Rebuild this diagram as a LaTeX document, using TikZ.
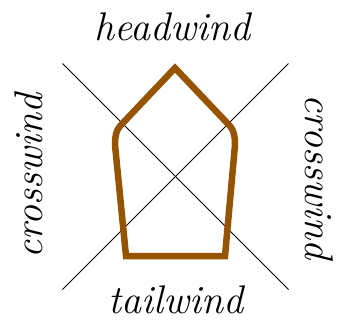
\documentclass[tikz,border=0pt]{standalone}
\definecolor{boatbrown}{RGB}{150,84,0}
\begin{document}
\begin{tikzpicture}[x=1pt,y=-1pt,
  windlabel/.style={font=\fontsize{40}{40}\selectfont\itshape, inner sep=0pt, anchor=base},
  crossline/.style={line width=0.9pt, black},
  hull/.style={line width=6.5pt, draw=boatbrown, line join=miter}]
\useasboundingbox (0,0) rectangle (343,322);
\coordinate (tl) at (62.5,63.5);
\coordinate (br) at (288.5,289.5);
\coordinate (tr) at (288.5,63.5);
\coordinate (bl) at (62.5,289.5);
\draw[crossline] (tl) -- (br);
\draw[crossline] (tr) -- (bl);
\draw[hull] (175,68) -- (230,126) .. controls (234,131) and (235,136) .. (235,145)
  -- (225,256) -- (126,256) -- (115,145) .. controls (115,136) and (116,131) .. (120,126) -- cycle;
\node[windlabel] (head) at (172,40) {headwind};
\node[windlabel] (tail) at (176,313) {tailwind};
\node[windlabel, rotate=90] (crossL) at (42,176) {crosswind};
\node[windlabel, rotate=-90] (crossR) at (305,177) {crosswind};
\end{tikzpicture}
\end{document}
